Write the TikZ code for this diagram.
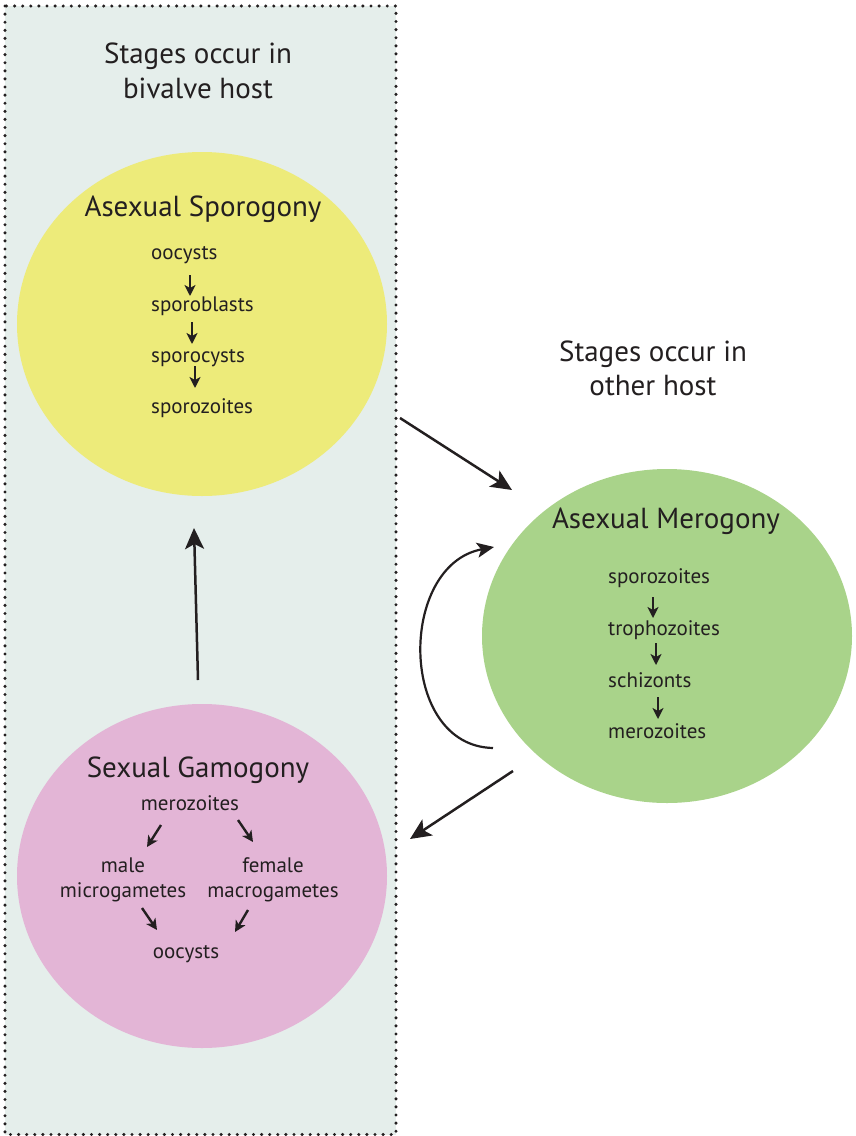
\documentclass[tikz,border=0pt]{standalone}
\usepackage{fontspec}
\setmainfont{PT Sans}
\usetikzlibrary{arrows.meta,shapes.geometric,calc}
\definecolor{ink}{HTML}{231F20}
\definecolor{boxbg}{HTML}{E5EEEB}
\definecolor{yel}{HTML}{EDEB7A}
\definecolor{grn}{HTML}{A9D38A}
\definecolor{pnk}{HTML}{E3B5D6}
\begin{document}
\begin{tikzpicture}[x=1pt,y=-1pt,
  blob/.style={ellipse, draw=none, minimum width=370pt, minimum height=344pt, inner sep=0pt},
  hdr/.style={font=\fontsize{29}{34}\selectfont, text=ink, inner sep=0pt, anchor=base},
  ttl/.style={font=\fontsize{29}{34}\selectfont, text=ink, inner sep=0pt, anchor=base},
  lbl/.style={font=\fontsize{21}{25}\selectfont, text=ink, inner sep=0pt, anchor=base west},
  lblc/.style={font=\fontsize{21}{25}\selectfont, text=ink, inner sep=0pt, anchor=base},
  bigarr/.style={draw=ink, line width=2.5pt, -{Stealth[length=21pt,width=19pt,inset=5pt]}},
  looparr/.style={draw=ink, line width=2.2pt, -{Stealth[length=17pt,width=15pt,inset=4pt]}},
  smarr/.style={draw=ink, line width=2.4pt, -{Stealth[length=11pt,width=11pt,inset=3pt]}},
  dotbox/.style={fill=boxbg, draw=ink, line width=3.4pt, line cap=round, dash pattern=on 0pt off 8.1pt}
]
\useasboundingbox (0,0) rectangle (855,1136);
% bivalve host region
\path[dotbox] (5,6) rectangle (396,1134.5);
% headers
\node[hdr] (h1a) at (198,63) {Stages occur in};
\node[hdr] (h1b) at (198,98) {bivalve host};
\node[hdr] (h2a) at (653,361) {Stages occur in};
\node[hdr] (h2b) at (653,395) {other host};
% ellipses
\node[blob, fill=yel] (spo) at (202,324) {};
\node[blob, fill=grn, minimum height=334pt] (mer) at (667,636) {};
\node[blob, fill=pnk] (gam) at (202,876) {};
% Asexual Sporogony
\node[ttl] (t1) at (203,216) {Asexual Sporogony};
\node[lbl] (y1) at (151,259) {oocysts};
\node[lbl] (y2) at (151,311) {sporoblasts};
\node[lbl] (y3) at (151,362) {sporocysts};
\node[lbl] (y4) at (151,413) {sporozoites};
\draw[smarr] ([shift={(39,16)}]y1.base west) -- ([shift={(39,-15)}]y2.base west);
\draw[smarr] ([shift={(41,11)}]y2.base west) -- ([shift={(41,-18)}]y3.base west);
\draw[smarr] ([shift={(44,4)}]y3.base west) -- ([shift={(44,-25)}]y4.base west);
% Asexual Merogony
\node[ttl] (t2) at (666,528) {Asexual Merogony};
\node[lbl] (g1) at (608,583) {sporozoites};
\node[lbl] (g2) at (608,635) {trophozoites};
\node[lbl] (g3) at (608,687) {schizonts};
\node[lbl] (g4) at (608,738) {merozoites};
\draw[smarr] ([shift={(45,14)}]g1.base west) -- ([shift={(45,-17)}]g2.base west);
\draw[smarr] ([shift={(48,8)}]g2.base west) -- ([shift={(48,-22)}]g3.base west);
\draw[smarr] ([shift={(50,10)}]g3.base west) -- ([shift={(50,-19)}]g4.base west);
% Sexual Gamogony
\node[ttl] (t3) at (198,777) {Sexual Gamogony};
\node[lblc] (p1) at (190,810) {merozoites};
\node[lblc] (p2a) at (123,872) {male};
\node[lblc] (p2b) at (123,897) {microgametes};
\node[lblc] (p3a) at (273,872) {female};
\node[lblc] (p3b) at (273,897) {macrogametes};
\node[lblc] (p4) at (186,958) {oocysts};
\draw[smarr] ([shift={(-29,15)}]p1.base) -- ([shift={(24,-25)}]p2a.base);
\draw[smarr] ([shift={(48,10)}]p1.base) -- ([shift={(-20,-30)}]p3a.base);
\draw[smarr] ([shift={(19,11)}]p2b.base) -- ([shift={(-29,-28)}]p4.base);
\draw[smarr] ([shift={(-25,13)}]p3b.base) -- ([shift={(49,-26)}]p4.base);
% big arrows
\coordinate (a1s) at (400,418);
\coordinate (a1e) at (512,490);
\coordinate (a2s) at (513,771);
\coordinate (a2e) at (410,839);
\coordinate (a3s) at (198,680);
\coordinate (a3e) at (194,528);
\coordinate (a4s) at (493,748);
\coordinate (a4e) at (494,547);
\draw[bigarr] (a1s) -- (a1e);
\draw[bigarr] (a2s) -- (a2e);
\draw[bigarr] (a3s) -- (a3e);
\draw[looparr] (a4s) .. controls (398,746) and (398,565) .. (a4e);
\end{tikzpicture}
\end{document}
